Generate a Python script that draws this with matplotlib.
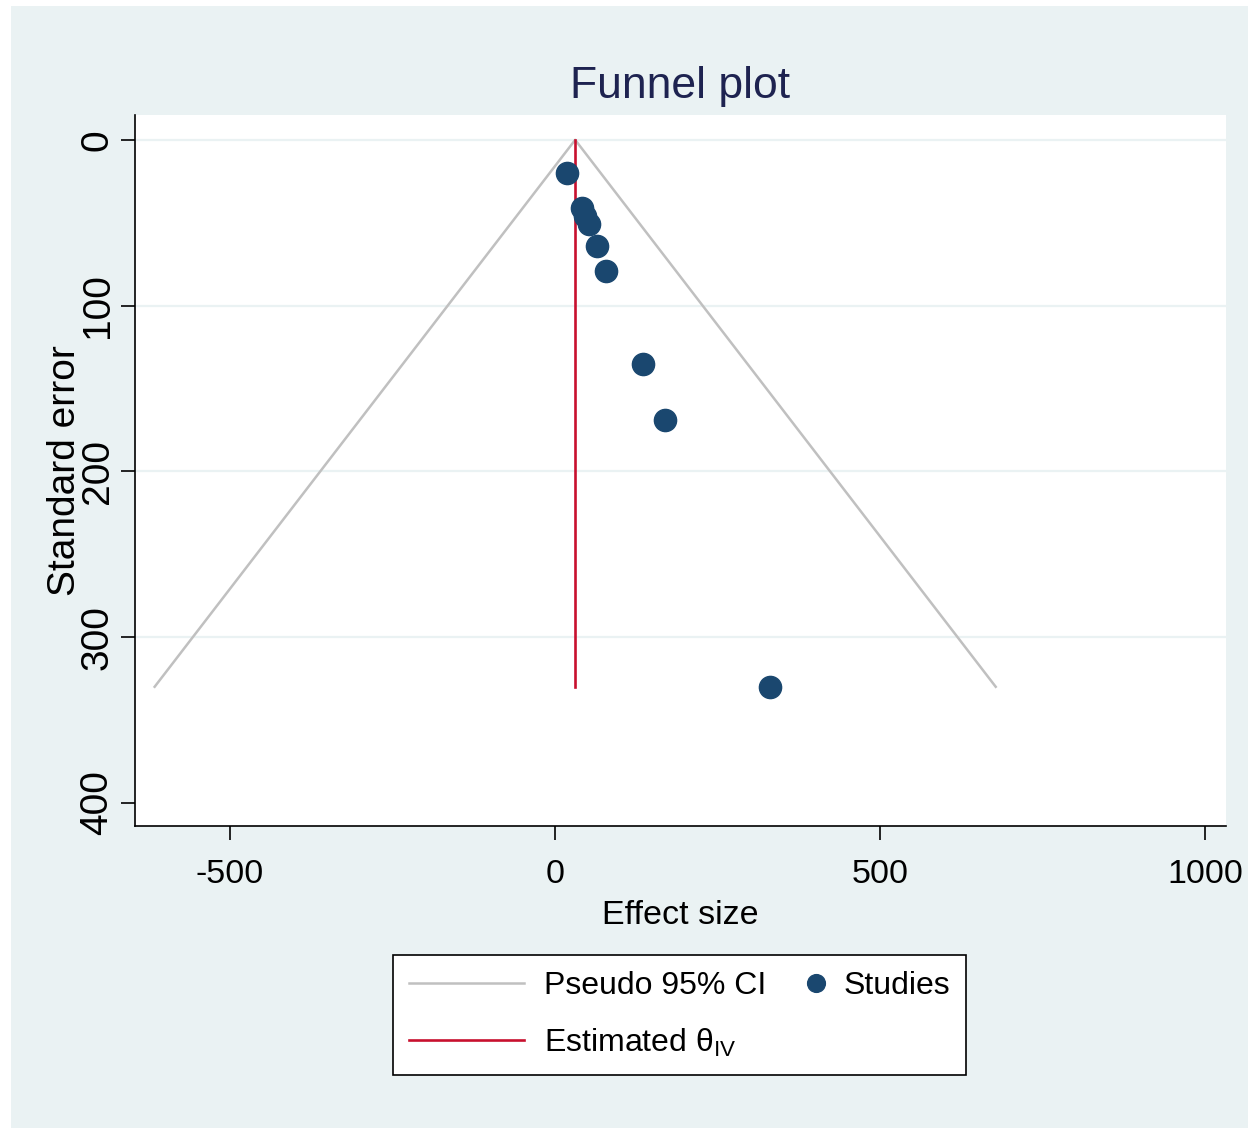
import matplotlib
matplotlib.use("Agg")
import matplotlib.pyplot as plt
from matplotlib.patches import Rectangle
from matplotlib.legend_handler import HandlerBase
from matplotlib.lines import Line2D

# ---- data ----
effect_size = [18, 42, 46, 52, 65, 79, 136, 169, 330]
std_error = [20, 41, 46, 51, 64, 79, 135, 169, 330]
theta_iv = 31
z95 = 1.96
x_ticks = [-500, 0, 500, 1000]
y_ticks = [0, 100, 200, 300, 400]
grid_y = [0, 100, 200, 300]

FONT = ['Liberation Sans', 'DejaVu Sans']

plt.rcParams['mathtext.fontset'] = 'custom'
plt.rcParams['mathtext.rm'] = 'Liberation Sans'
plt.rcParams['mathtext.it'] = 'Liberation Sans'

W, H = 1248, 1128
fig = plt.figure(figsize=(W / 100, H / 100), dpi=100, facecolor='white')

BG = '#EAF2F3'
fig.patches.append(Rectangle((11 / W, 0), 1 - 11 / W, 1 - 6 / H,
                             transform=fig.transFigure, facecolor=BG,
                             edgecolor='none', zorder=-10))

def fx(px):
    return px / W

def fy(py):
    return 1 - py / H

ax = fig.add_axes([fx(135), fy(826), fx(1226) - fx(135), fy(115) - fy(826)])
ax.set_facecolor('white')

for g in grid_y:
    ax.axhline(g, color=BG, lw=1.6, zorder=0)

max_se = max(std_error)
ax.plot([theta_iv - z95 * max_se, theta_iv, theta_iv + z95 * max_se],
        [max_se, 0, max_se], color='#C0C0C0', lw=1.8, zorder=2,
        label='Pseudo 95% CI')
ax.plot([theta_iv, theta_iv], [0, max_se], color='#C8102E', lw=1.9, zorder=3,
        label='Estimated θ$_{\\mathrm{IV}}$')
ax.plot(effect_size, std_error, linestyle='none', marker='o', ms=16,
        color='#1A476F', zorder=4, label='Studies')

ax.set_xlim(-646, 1032)
ax.set_ylim(414, -15)
ax.set_xticks(x_ticks)
ax.set_yticks(y_ticks)
ax.set_xticklabels([str(v) for v in x_ticks], family=FONT, fontsize=24.5)
ax.set_yticklabels([str(v) for v in y_ticks], family=FONT, fontsize=28,
                   rotation=90, va='center')
ax.tick_params(axis='both', direction='out', length=10, width=1.2,
               color='black')
ax.tick_params(axis='x', pad=13.5)
ax.tick_params(axis='y', pad=4)

for s in ['top', 'right']:
    ax.spines[s].set_visible(False)
for s in ['left', 'bottom']:
    ax.spines[s].set_color('black')
    ax.spines[s].set_linewidth(1.2)

ax.set_xlabel('Effect size', family=FONT, fontsize=24.5, labelpad=7.5)
ax.set_ylabel('Standard error', family=FONT, fontsize=28, labelpad=-2.5)
ax.set_title('Funnel plot', family=FONT, fontsize=32, color='#1E2350', pad=12)


class RightMarker(HandlerBase):
    def create_artists(self, legend, orig_handle, xdescent, ydescent,
                       width, height, fontsize, trans):
        x = -xdescent + width - 0.25 * fontsize
        y = (height - ydescent) / 2.0
        m = Line2D([x], [y], linestyle='none', marker='o',
                   color=orig_handle.get_color(),
                   markersize=orig_handle.get_markersize() * legend.markerscale)
        m.set_transform(trans)
        return [m]


h, l = ax.get_legend_handles_labels()
leg = fig.legend(h, l, loc='upper left',
                 bbox_to_anchor=(fx(393), fy(955)), borderaxespad=0,
                 ncol=2, frameon=True, fancybox=False, edgecolor='black',
                 facecolor='white', framealpha=1,
                 prop={'family': FONT, 'size': 23},
                 handlelength=3.6, handletextpad=0.62, columnspacing=-1.8,
                 labelspacing=0.8, borderpad=0.5, markerscale=0.8,
                 handler_map={h[2]: RightMarker()})
leg.get_frame().set_linewidth(1.2)

fig.savefig('out.png', dpi=100, facecolor='white')
